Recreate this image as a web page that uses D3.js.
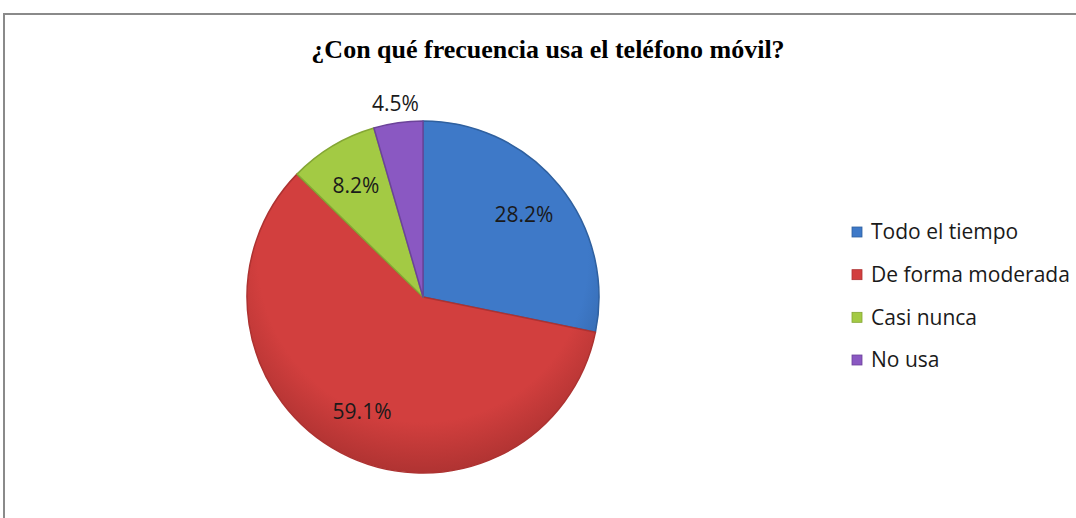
<!DOCTYPE html>
<html>
<head>
<meta charset="utf-8">
<script src="https://cdn.jsdelivr.net/npm/d3@7"></script>
<style>
  body { margin: 0; background: #fff; }
  svg { display: block; }
</style>
</head>
<body>
<script>
var categories = ['Todo el tiempo', 'De forma moderada', 'Casi nunca', 'No usa']
var values = [28.2, 59.1, 8.2, 4.5]
var valueLabels = ['28.2%', '59.1%', '8.2%', '4.5%']
var colors = ['#3e79c8', '#d23f3e', '#a3ca44', '#8a58c2']
var darker = ['#2f609f', '#ad3231', '#84a634', '#6b4399']

var options = {
  width: 1076,
  height: 518,
  cx: 423,
  cy: 297,
  radius: 176
}

var svg = d3.select('body').append('svg')
  .attr('width', options.width)
  .attr('height', options.height)

// chart frame
svg.append('path')
  .attr('d', 'M4,530 L4,14 L1080,14')
  .attr('fill', 'none')
  .attr('stroke', '#8a8a8a')
  .attr('stroke-width', 2)

svg.append('text')
  .attr('x', 548)
  .attr('y', 58)
  .attr('text-anchor', 'middle')
  .style('font-family', '"Liberation Serif", "Times New Roman", serif')
  .style('font-weight', 'bold')
  .style('font-size', '26px')
  .text('¿Con qué frecuencia usa el teléfono móvil?')

var defs = svg.append('defs')
colors.forEach(function(c, i) {
  var g = defs.append('radialGradient')
    .attr('id', 'grad' + i)
    .attr('gradientUnits', 'userSpaceOnUse')
    .attr('cx', 0).attr('cy', -40)
    .attr('r', options.radius * 1.25)
  g.append('stop').attr('offset', '0%').attr('stop-color', c)
  g.append('stop').attr('offset', '75%').attr('stop-color', c)
  g.append('stop').attr('offset', '100%').attr('stop-color', darker[i])
})

var pie = d3.pie().sort(null).value(function(d) { return d })
var arcs = pie(values)
var arc = d3.arc().innerRadius(0).outerRadius(options.radius)
var labelArc = d3.arc().innerRadius(options.radius * 0.74).outerRadius(options.radius * 0.74)
var outerArc = d3.arc().innerRadius(options.radius * 1.11).outerRadius(options.radius * 1.11)

var g = svg.append('g').attr('transform', 'translate(' + options.cx + ',' + options.cy + ')')

g.selectAll('path.slice').data(arcs).enter().append('path')
  .attr('class', 'slice')
  .attr('d', arc)
  .attr('fill', function(d, i) { return 'url(#grad' + i + ')' })
  .attr('stroke', function(d, i) { return darker[i] })
  .attr('stroke-width', 1.5)
  .attr('stroke-linejoin', 'round')

g.selectAll('text.lbl').data(arcs).enter().append('text')
  .attr('class', 'lbl')
  .attr('transform', function(d, i) {
    var p = (i === 3 ? outerArc : labelArc).centroid(d)
    return 'translate(' + p[0] + ',' + p[1] + ')'
  })
  .attr('text-anchor', 'middle')
  .attr('dy', '0.35em')
  .style('font-family', '"Open Sans", sans-serif')
  .style('font-size', '21px')
  .style('fill', '#1a1a1a')
  .text(function(d, i) { return valueLabels[i] })

var legend = svg.append('g').attr('transform', 'translate(852,232)')
var rowY = d3.scalePoint().domain(categories).range([0, 128])

var rows = legend.selectAll('g').data(categories).enter().append('g')
  .attr('transform', function(d) { return 'translate(0,' + rowY(d) + ')' })

rows.append('rect')
  .attr('x', 0).attr('y', -5)
  .attr('width', 10).attr('height', 10)
  .attr('fill', function(d, i) { return colors[i] })
  .attr('stroke', function(d, i) { return darker[i] })
  .attr('stroke-width', 0.8)

rows.append('text')
  .attr('x', 19)
  .attr('dy', '0.35em')
  .style('font-family', '"Open Sans", sans-serif')
  .style('font-size', '21px')
  .style('fill', '#1a1a1a')
  .text(function(d) { return d })
</script>
</body>
</html>
